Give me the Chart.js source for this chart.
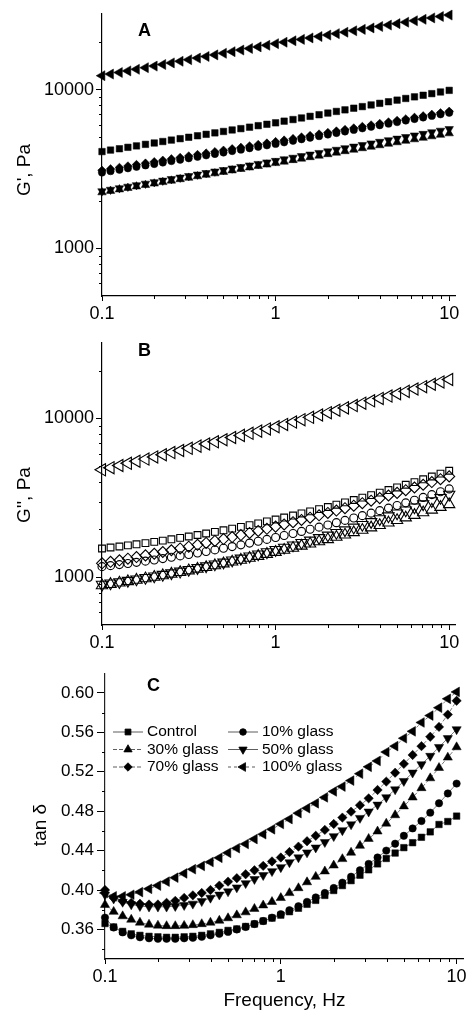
<!DOCTYPE html>
<html>
<head>
<meta charset="utf-8">
<script src="https://cdn.jsdelivr.net/npm/chart.js@4.4.0/dist/chart.umd.min.js"></script>
<style>
  html, body { margin: 0; padding: 0; background: #fff; overflow: hidden; }
  #wrap { position: relative; width: 470px; height: 1012px; overflow: hidden; }
  canvas { position: absolute; left: 0; }
</style>
</head>
<body>
<div id="wrap">
  <canvas id="chartA" width="470" height="330" style="top:0px"></canvas>
  <canvas id="chartB" width="470" height="330" style="top:330px"></canvas>
  <canvas id="chartC" width="470" height="352" style="top:660px"></canvas>
</div>
<script>
// frequency sweep, Hz
var freq = [0.1, 0.112, 0.126, 0.141, 0.158, 0.178, 0.2, 0.224, 0.251, 0.282, 0.316, 0.355, 0.398, 0.447, 0.501, 0.562, 0.631, 0.708, 0.794, 0.891,
  1, 1.12, 1.26, 1.41, 1.58, 1.78, 2, 2.24, 2.51, 2.82, 3.16, 3.55, 3.98, 4.47, 5.01, 5.62, 6.31, 7.08, 7.94, 8.91, 10];

var seriesNames = ['Control', '10% glass', '30% glass', '50% glass', '70% glass', '100% glass'];

// A: G', Pa
var gA_control = [4070, 4160, 4240, 4330, 4420, 4520, 4610, 4710, 4810, 4910, 5010, 5120, 5230, 5340, 5450, 5570, 5680, 5800, 5930, 6050, 6180, 6330, 6480, 6630, 6790, 6950, 7120, 7290, 7460, 7640, 7820, 8010, 8200, 8390, 8590, 8800, 9010, 9220, 9440, 9670, 9900];
var gA_10 = [3000, 3063, 3128, 3193, 3261, 3329, 3399, 3471, 3544, 3618, 3694, 3772, 3852, 3933, 4015, 4100, 4186, 4274, 4364, 4456, 4550, 4654, 4760, 4869, 4980, 5094, 5211, 5330, 5452, 5576, 5704, 5834, 5968, 6104, 6243, 6386, 6532, 6681, 6834, 6990, 7150];
var gA_30 = [2250, 2298, 2348, 2398, 2450, 2502, 2556, 2611, 2667, 2724, 2782, 2842, 2903, 2965, 3029, 3094, 3160, 3228, 3297, 3368, 3440, 3515, 3592, 3670, 3750, 3832, 3916, 4001, 4089, 4178, 4269, 4363, 4458, 4555, 4655, 4756, 4860, 4966, 5075, 5186, 5299];
var gA_50 = [2290, 2341, 2393, 2447, 2501, 2557, 2614, 2672, 2732, 2793, 2855, 2919, 2984, 3050, 3118, 3188, 3259, 3331, 3406, 3482, 3559, 3642, 3727, 3814, 3903, 3994, 4088, 4183, 4281, 4381, 4483, 4588, 4695, 4805, 4917, 5032, 5149, 5269, 5393, 5518, 5647];
var gA_70 = [3100, 3165, 3232, 3300, 3369, 3440, 3512, 3586, 3661, 3738, 3817, 3897, 3979, 4063, 4148, 4235, 4324, 4415, 4508, 4603, 4700, 4805, 4912, 5021, 5132, 5247, 5363, 5483, 5605, 5729, 5857, 5987, 6120, 6257, 6396, 6538, 6684, 6833, 6985, 7140, 7299];
var gA_100 = [12250, 12540, 12830, 13130, 13440, 13760, 14080, 14410, 14750, 15100, 15450, 15820, 16190, 16570, 16960, 17360, 17770, 18190, 18610, 19050, 19500, 19910, 20330, 20750, 21190, 21630, 22090, 22550, 23020, 23510, 24000, 24500, 25020, 25540, 26080, 26630, 27190, 27760, 28340, 28930, 29540];

// B: G'', Pa
var gB_control = [1517, 1539, 1562, 1587, 1612, 1641, 1670, 1702, 1734, 1770, 1806, 1846, 1886, 1930, 1975, 2024, 2075, 2130, 2186, 2247, 2310, 2377, 2447, 2522, 2600, 2684, 2771, 2864, 2961, 3066, 3174, 3291, 3412, 3542, 3678, 3824, 3977, 4141, 4312, 4496, 4688];
var gB_10 = [1166, 1183, 1201, 1221, 1241, 1263, 1285, 1310, 1335, 1363, 1391, 1422, 1453, 1487, 1522, 1560, 1599, 1641, 1684, 1731, 1780, 1832, 1886, 1944, 2004, 2068, 2135, 2207, 2281, 2361, 2444, 2534, 2627, 2726, 2829, 2941, 3058, 3183, 3314, 3455, 3601];
var gB_30 = [887, 904, 922, 941, 961, 982, 1003, 1026, 1050, 1075, 1101, 1128, 1156, 1186, 1218, 1251, 1285, 1321, 1358, 1398, 1439, 1483, 1528, 1576, 1625, 1678, 1733, 1791, 1851, 1916, 1982, 2053, 2126, 2205, 2286, 2373, 2462, 2558, 2658, 2765, 2876];
var gB_50 = [899, 916, 933, 952, 972, 993, 1014, 1038, 1062, 1088, 1115, 1145, 1175, 1208, 1241, 1278, 1315, 1355, 1397, 1441, 1489, 1540, 1592, 1649, 1707, 1770, 1836, 1907, 1980, 2060, 2143, 2232, 2325, 2425, 2530, 2643, 2761, 2889, 3023, 3168, 3319];
var gB_70 = [1224, 1251, 1279, 1309, 1340, 1373, 1406, 1442, 1479, 1518, 1558, 1601, 1645, 1692, 1740, 1791, 1844, 1900, 1958, 2020, 2084, 2151, 2221, 2296, 2373, 2455, 2540, 2630, 2724, 2824, 2927, 3037, 3151, 3273, 3400, 3535, 3676, 3825, 3980, 4146, 4319];
var gB_100 = [4750, 4900, 5060, 5220, 5380, 5550, 5730, 5910, 6100, 6290, 6490, 6700, 6910, 7130, 7350, 7590, 7830, 8070, 8330, 8600, 8870, 9180, 9500, 9830, 10170, 10530, 10890, 11270, 11670, 12070, 12490, 12930, 13380, 13850, 14330, 14830, 15350, 15880, 16440, 17010, 17610];

// C: tan delta
var tC_control = [0.366, 0.3625, 0.358, 0.3555, 0.354, 0.353, 0.3525, 0.352, 0.352, 0.3525, 0.353, 0.354, 0.3555, 0.357, 0.359, 0.3605, 0.363, 0.3655, 0.3685, 0.3715, 0.3745, 0.378, 0.3815, 0.3855, 0.3895, 0.3945, 0.3995, 0.4045, 0.4095, 0.415, 0.4205, 0.4265, 0.432, 0.4375, 0.443, 0.448, 0.4535, 0.459, 0.4665, 0.4695, 0.475];
var tC_10 = [0.372, 0.362, 0.357, 0.354, 0.352, 0.351, 0.3505, 0.3505, 0.3505, 0.351, 0.3515, 0.3525, 0.354, 0.3555, 0.3575, 0.36, 0.3625, 0.3655, 0.3685, 0.372, 0.3755, 0.3795, 0.3835, 0.388, 0.3925, 0.397, 0.402, 0.4075, 0.4135, 0.42, 0.4265, 0.433, 0.44, 0.447, 0.455, 0.4625, 0.47, 0.4785, 0.488, 0.498, 0.508];
var tC_30 = [0.385, 0.378, 0.3735, 0.37, 0.367, 0.365, 0.364, 0.3635, 0.3635, 0.3638, 0.3645, 0.3655, 0.367, 0.369, 0.3715, 0.3745, 0.3775, 0.381, 0.3845, 0.388, 0.392, 0.397, 0.402, 0.408, 0.4135, 0.419, 0.425, 0.4315, 0.438, 0.445, 0.452, 0.4595, 0.4675, 0.476, 0.485, 0.494, 0.5035, 0.5135, 0.524, 0.5345, 0.545];
var tC_50 = [0.3952, 0.3912, 0.3879, 0.3853, 0.3836, 0.383, 0.383, 0.383, 0.3836, 0.3846, 0.386, 0.3886, 0.392, 0.3952, 0.3985, 0.4025, 0.4068, 0.411, 0.415, 0.419, 0.423, 0.428, 0.433, 0.438, 0.443, 0.4485, 0.4545, 0.4605, 0.4665, 0.473, 0.4795, 0.4865, 0.494, 0.502, 0.5105, 0.519, 0.5275, 0.536, 0.545, 0.554, 0.563];
var tC_70 = [0.4, 0.392, 0.3886, 0.387, 0.386, 0.3853, 0.3853, 0.387, 0.389, 0.392, 0.3946, 0.397, 0.4, 0.4045, 0.4085, 0.412, 0.416, 0.42, 0.4245, 0.429, 0.433, 0.4385, 0.444, 0.4495, 0.455, 0.461, 0.467, 0.4735, 0.4795, 0.486, 0.493, 0.5015, 0.51, 0.519, 0.528, 0.537, 0.546, 0.5555, 0.5655, 0.578, 0.592];
var tC_100 = [0.397, 0.3936, 0.3936, 0.3952, 0.3979, 0.4012, 0.4045, 0.4085, 0.4125, 0.4168, 0.4211, 0.4244, 0.4284, 0.4327, 0.4377, 0.4424, 0.4467, 0.4517, 0.4566, 0.4616, 0.467, 0.472, 0.478, 0.483, 0.488, 0.494, 0.5, 0.505, 0.511, 0.518, 0.525, 0.531, 0.54, 0.546, 0.554, 0.561, 0.57, 0.577, 0.585, 0.594, 0.601];

// tick labels
var xTicks = [0.1, 1, 10];
var gTicks = [1000, 10000];
var tanTicks = [0.36, 0.40, 0.44, 0.48, 0.52, 0.56, 0.60];

var FONT = '"Liberation Sans", Arial, Helvetica, sans-serif';
Chart.defaults.font.family = FONT;
Chart.defaults.color = '#000';

// marker per series: square, circle, up, down, diamond, left
var markers = [
  { style: 'rect', rot: 0 },
  { style: 'circle', rot: 0 },
  { style: 'triangle', rot: 0 },
  { style: 'triangle', rot: 180 },
  { style: 'rectRot', rot: 0 },
  { style: 'triangle', rot: 270 }
];

function pts(vals) {
  return freq.map(function(f, i) { return { x: f, y: vals[i] }; });
}

function makeSets(lists, radii, open, lines) {
  return lists.map(function(vals, i) {
    return {
      label: seriesNames[i],
      data: pts(vals),
      pointStyle: markers[i].style,
      pointRotation: markers[i].rot,
      pointRadius: radii[i],
      pointHoverRadius: radii[i],
      pointBackgroundColor: open ? 'rgba(255,255,255,0)' : '#000',
      pointBorderColor: '#000',
      pointBorderWidth: open ? 1.1 : 0.5,
      showLine: !!lines,
      borderColor: '#444',
      borderWidth: 0.7,
      borderDash: lines ? lines[i] : [],
      clip: false
    };
  });
}

// short minor ticks drawn on the scales
var minorTicks = {
  id: 'minorTicks',
  afterDraw: function(chart, args, o) {
    var ctx = chart.ctx;
    ctx.save();
    ctx.strokeStyle = '#000';
    ctx.lineWidth = 1;
    var xs = chart.scales.x, ys = chart.scales.y;
    var vals = [];
    if (xs.type === 'logarithmic') {
      for (var d = -1; d <= 1; d++) for (var k = 2; k <= 9; k++) vals.push(k * Math.pow(10, d));
      vals.forEach(function(v) {
        if (v <= xs.min || v >= xs.max) return;
        var px = Math.round(xs.getPixelForValue(v)) + 0.5;
        ctx.beginPath(); ctx.moveTo(px, xs.top); ctx.lineTo(px, xs.top + o.len); ctx.stroke();
      });
    }
    vals = [];
    if (ys.type === 'logarithmic') {
      for (var e = 2; e <= 4; e++) for (var j = 2; j <= 9; j++) vals.push(j * Math.pow(10, e));
    } else {
      for (var t = 34; t <= 62; t += 2) if (t % 4 !== 0) vals.push(t / 100);
    }
    vals.forEach(function(v) {
      if (v <= ys.min || v >= ys.max) return;
      var py = Math.round(ys.getPixelForValue(v)) + 0.5;
      ctx.beginPath(); ctx.moveTo(ys.right, py); ctx.lineTo(ys.right - o.len, py); ctx.stroke();
    });
    ctx.restore();
  }
};

// panel letter and rotated y title
var panelText = {
  id: 'panelText',
  afterDraw: function(chart, args, o) {
    var ctx = chart.ctx;
    ctx.save();
    ctx.fillStyle = '#000';
    ctx.font = 'bold 18px ' + FONT;
    ctx.textAlign = 'left';
    ctx.textBaseline = 'alphabetic';
    ctx.fillText(o.letter, o.letterX, o.letterY);
    ctx.font = '19px ' + FONT;
    ctx.translate(o.titleX, o.titleY);
    ctx.rotate(-Math.PI / 2);
    ctx.textAlign = 'center';
    ctx.textBaseline = 'middle';
    ctx.fillText(o.title, 0, 0);
    ctx.restore();
  }
};

// two-column legend inside panel C
var insideLegend = {
  id: 'insideLegend',
  afterDraw: function(chart, args, o) {
    if (!o.show) return;
    var ctx = chart.ctx;
    ctx.save();
    ctx.font = '15.5px ' + FONT;
    ctx.textBaseline = 'middle';
    chart.data.datasets.forEach(function(ds, i) {
      var col = i % 2, row = Math.floor(i / 2);
      var x0 = o.cols[col], y = o.top + row * o.rowH;
      ctx.strokeStyle = '#333';
      ctx.lineWidth = 0.8;
      ctx.setLineDash(ds.borderDash || []);
      ctx.beginPath(); ctx.moveTo(x0, y); ctx.lineTo(x0 + 30, y); ctx.stroke();
      ctx.setLineDash([]);
      ctx.fillStyle = '#000';
      ctx.strokeStyle = '#000';
      Chart.helpers.drawPoint(ctx, {
        pointStyle: ds.pointStyle, rotation: ds.pointRotation,
        radius: ds.pointRadius * 0.9, borderWidth: 0.5
      }, x0 + 15, y);
      ctx.fillStyle = '#000';
      ctx.fillText(ds.label, x0 + 34, y);
    });
    ctx.restore();
  }
};

function logAxis(min, max, majors, fit, tickLen) {
  return {
    type: 'logarithmic', min: min, max: max,
    afterBuildTicks: function(s) { s.ticks = majors.map(function(v) { return { value: v }; }); },
    afterFit: fit,
    grid: { drawOnChartArea: false, tickLength: tickLen, color: '#000' },
    border: { color: '#000', width: 1.2 },
    ticks: { autoSkip: false, maxRotation: 0, padding: 2, font: { size: 18 },
      callback: function(v) { return String(v); } }
  };
}

function panelOptions(yAxis, xAxis, padTop, padRight, text, legend) {
  return {
    responsive: false,
    animation: false,
    devicePixelRatio: 1,
    layout: { padding: { top: padTop, right: padRight, left: 0, bottom: 0 } },
    scales: { x: xAxis, y: yAxis },
    plugins: {
      legend: { display: false },
      tooltip: { enabled: false },
      minorTicks: { len: 3 },
      panelText: text,
      insideLegend: legend || { show: false }
    }
  };
}

// panel A
new Chart(document.getElementById('chartA'), {
  type: 'scatter',
  data: { datasets: makeSets([gA_control, gA_10, gA_30, gA_50, gA_70, gA_100], [4.6, 3.7, 4.9, 4.9, 4.3, 5.8], false, null) },
  options: panelOptions(
    logAxis(500, 30000, gTicks, function(s) { s.width = 102; }, 6),
    logAxis(0.1, 10.8, xTicks, function(s) { s.height = 34; }, 5),
    14, 15,
    { letter: 'A', letterX: 138, letterY: 36, title: "G', Pa", titleX: 25, titleY: 170 }
  ),
  plugins: [minorTicks, panelText, insideLegend]
});

// panel B
new Chart(document.getElementById('chartB'), {
  type: 'scatter',
  data: { datasets: makeSets([gB_control, gB_10, gB_30, gB_50, gB_70, gB_100], [4.8, 4, 6.5, 6.5, 5.5, 7], true, null) },
  options: panelOptions(
    logAxis(500, 30000, gTicks, function(s) { s.width = 102; }, 6),
    logAxis(0.1, 10.8, xTicks, function(s) { s.height = 35; }, 5),
    10, 15,
    { letter: 'B', letterX: 138, letterY: 26, title: "G'', Pa", titleX: 25, titleY: 165 }
  ),
  plugins: [minorTicks, panelText, insideLegend]
});

// panel C
var xC = logAxis(0.1, 11, xTicks, function(s) { s.height = 53; }, 5);
xC.title = { display: true, text: 'Frequency, Hz', font: { size: 19 }, padding: { top: 0, bottom: 0 } };
new Chart(document.getElementById('chartC'), {
  type: 'scatter',
  data: { datasets: makeSets([tC_control, tC_10, tC_30, tC_50, tC_70, tC_100], [4.6, 3.7, 5.3, 5.3, 4.7, 5.6], false,
    [[], [], [4, 2], [], [4, 2], [3, 3]]) },
  options: panelOptions(
    {
      type: 'linear', min: 0.33, max: 0.62,
      afterBuildTicks: function(s) { s.ticks = tanTicks.map(function(v) { return { value: v }; }); },
      afterFit: function(s) { s.width = 105; },
      grid: { drawOnChartArea: false, tickLength: 8, color: '#000' },
      border: { color: '#222', width: 1.2 },
      ticks: { padding: 3, font: { size: 17 }, callback: function(v) { return v.toFixed(2); } }
    },
    xC,
    8, 2,
    { letter: 'C', letterX: 147, letterY: 31, title: 'tan \u03b4', titleX: 41, titleY: 165 },
    { show: true, cols: [113, 228], top: 72, rowH: 17.5 }
  ),
  plugins: [minorTicks, panelText, insideLegend]
});
</script>
</body>
</html>
